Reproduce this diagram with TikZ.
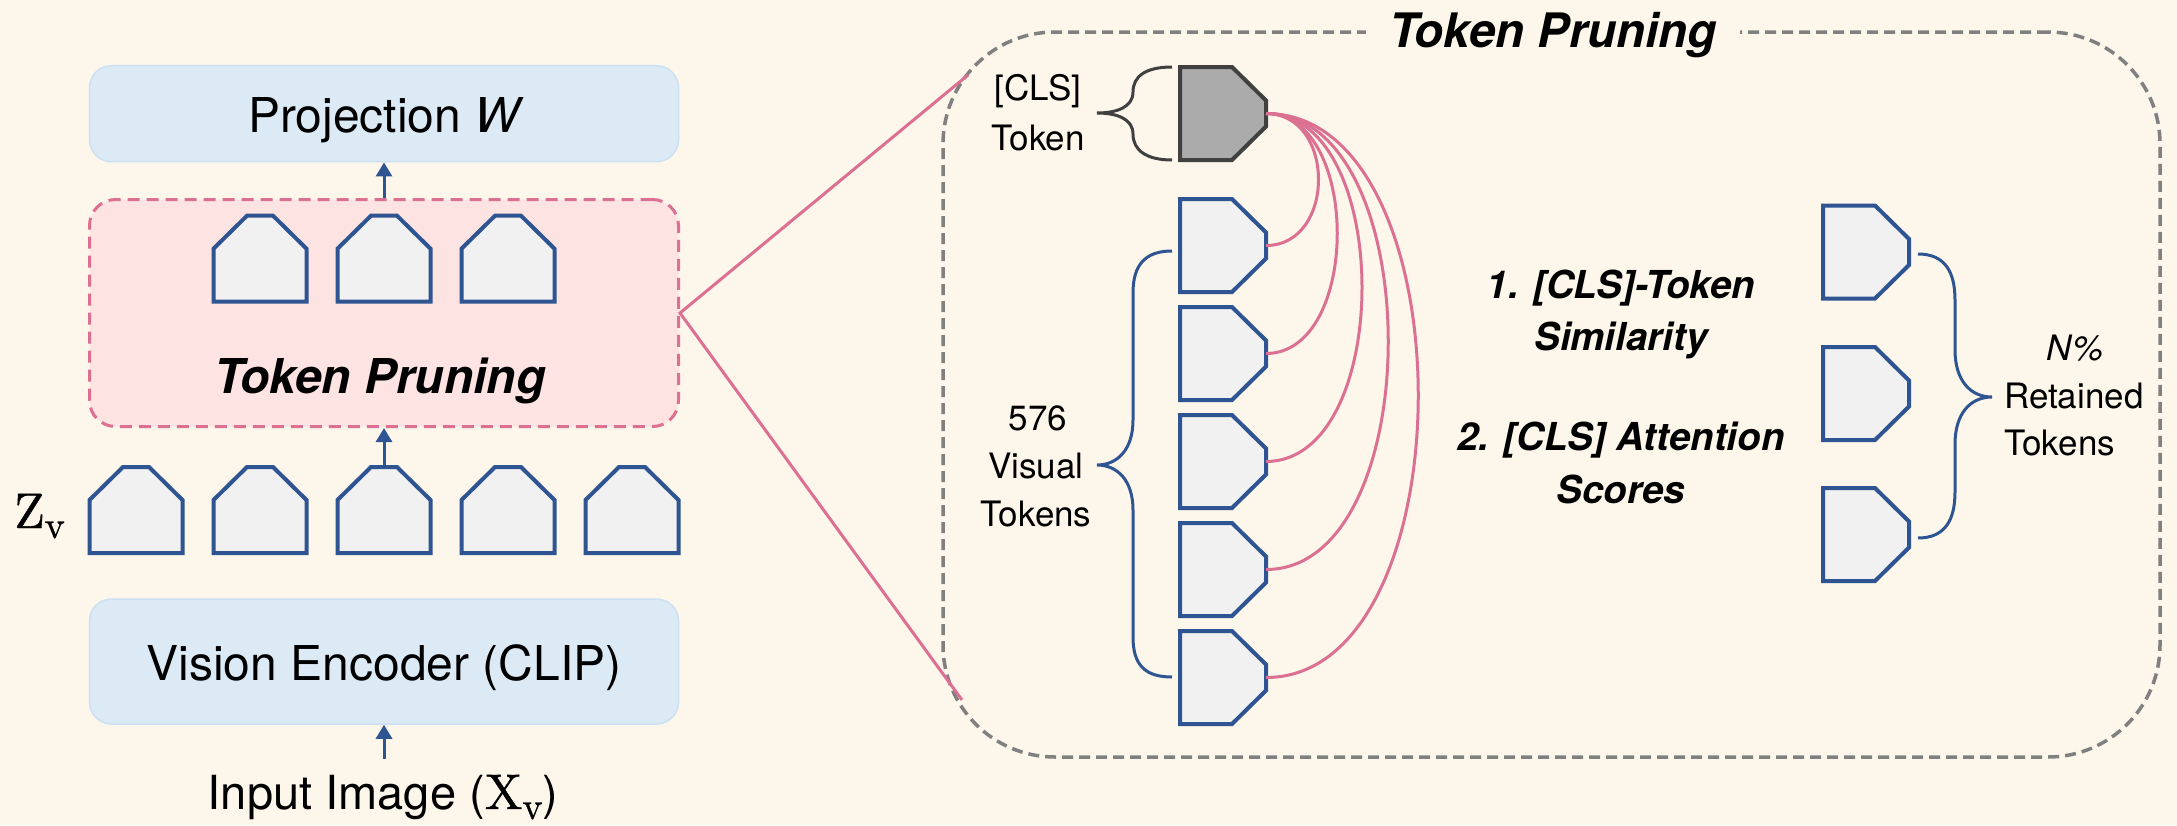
\documentclass[tikz,border=0pt]{standalone}
\usepackage{fontspec}
\newfontfamily\hv{TeX Gyre Heros}
\newfontfamily\symfont{lmroman10-regular.otf}[FakeBold=0.8]
\usetikzlibrary{arrows.meta}

\definecolor{bg}{RGB}{253,246,235}
\definecolor{boxblue}{RGB}{220,234,246}
\definecolor{boxblueline}{RGB}{204,224,243}
\definecolor{boxpink}{RGB}{253,228,226}
\definecolor{rose}{RGB}{219,112,147}
\definecolor{tokblue}{RGB}{46,84,146}
\definecolor{tokgray}{RGB}{241,241,241}
\definecolor{clsgray}{RGB}{171,171,171}
\definecolor{clsdark}{RGB}{64,64,64}
\definecolor{framegray}{RGB}{128,128,128}

\newcommand{\setfs}[1]{\fontsize{#1pt}{#1pt}\selectfont}
% serif symbol with an upright subscript v
\newcommand{\serifvar}[1]{{\symfont\setfs{50}#1\raisebox{-10pt}{\setfs{38}v}}}

\begin{document}
\begin{tikzpicture}[x=1pt,y=-1pt,
  bluebox/.style={draw=boxblueline, line width=1.5pt, fill=boxblue, rounded corners=22pt,
    minimum width=589pt, inner sep=0pt, font=\hv\setfs{48}},
  prunebox/.style={draw=rose, line width=3pt, dash pattern=on 12pt off 7pt, fill=boxpink,
    rounded corners=26pt, minimum width=589pt, minimum height=227pt},
  tokline/.style={draw=tokblue, fill=tokgray, line width=4pt, line join=miter},
  flow/.style={draw=tokblue, line width=3pt, -{Triangle[width=16pt,length=14pt]}},
  zoomline/.style={draw=rose, line width=3pt, line join=miter},
  attn/.style={draw=rose, line width=3pt},
  framebox/.style={draw=framegray, line width=3.5pt, dash pattern=on 11pt off 6pt,
    rounded corners=112pt, minimum width=1217pt, minimum height=725pt},
  brace/.style={line width=3pt, draw=tokblue},
  lbl/.style={font=\hv\setfs{35}, inner sep=0pt, anchor=base},
  method/.style={font=\hv\bfseries\itshape\setfs{38.5}, inner sep=0pt, anchor=base},
  tokU/.pic={\path[tokline] (-46.5,43) -- (46.5,43) -- (46.5,-10) -- (13,-43)
      -- (-13,-43) -- (-46.5,-10) -- cycle;
    \coordinate (-top) at (0,-43);},
  tokR/.pic={\path[tokline] (-43,-46.5) -- (9,-46.5) -- (43,-13) -- (43,13)
      -- (9,46.5) -- (-43,46.5) -- cycle;
    \coordinate (-tip) at (43,0);},
]
\fill[bg] (0,0) rectangle (2177,825);
\useasboundingbox (0,0) rectangle (2177,825);

% ---------- left column: encoder pipeline ----------
\node[bluebox, minimum height=96pt, text height=45pt, text depth=7pt] (proj) at (384,113.7)
  {Projection {\itshape W}};
\node[prunebox] (prune) at (384,313) {};
\node[font=\hv\bfseries\itshape\setfs{48}, inner sep=0pt, anchor=base] (pruneLbl) at (380,393)
  {Token Pruning};
\node[bluebox, minimum height=125pt, text height=44pt, text depth=7pt] (enc) at (384,661.5)
  {Vision Encoder (CLIP)};
\node[font=\hv\setfs{47}, inner sep=0pt, anchor=base] (inp) at (383,809)
  {Input Image (\serifvar{X})};
\node[inner sep=0pt, anchor=base west] (zv) at (14,528) {\serifvar{Z}};

\foreach \x/\n in {260/1,384/2,508/3}
  \pic (p\n) at (\x,258.7) {tokU};
\foreach \x/\n in {136/1,260/2,384/3,508/4,632/5}
  \pic (z\n) at (\x,510) {tokU};

\coordinate (inpTop) at (384,759);
\draw[flow] (prune.north) -- (proj.south);
\draw[flow] (z3-top) -- (prune.south);
\draw[flow] (inpTop) -- (enc.south);

% ---------- right panel: detail of the pruning step ----------
\node[framebox] (detail) at (1551.5,394.5) {};
\coordinate (zt) at (968,75);
\coordinate (zb) at (962,700);
\draw[zoomline] (zt) -- (prune.east) -- (zb);
\node[fill=bg, inner xsep=23pt, inner ysep=4pt, font=\hv\bfseries\itshape\setfs{47.5},
  anchor=base] (title) at (1553,47) {Token Pruning};

\pic[tokline/.append style={draw=clsdark, fill=clsgray}] (cls) at (1223,113.5) {tokR};
\foreach \y/\n in {245.5/1,353.5/2,461.5/3,569.5/4,677.5/5}
  \pic (v\n) at (1223,\y) {tokR};
\foreach \y/\n in {252/1,393.5/2,534.5/3}
  \pic (r\n) at (1866,\y) {tokR};

% attention links from the [CLS] token to each visual token
\draw[attn] (cls-tip) .. controls +(70,0) and +(70,0) .. (v1-tip);
\draw[attn] (cls-tip) .. controls +(95,0) and +(95,0) .. (v2-tip);
\draw[attn] (cls-tip) .. controls +(128,0) and +(128,0) .. (v3-tip);
\draw[attn] (cls-tip) .. controls +(163,0) and +(163,0) .. (v4-tip);
\draw[attn] (cls-tip) .. controls +(203,0) and +(203,0) .. (v5-tip);

% braces
\draw[brace, draw=clsdark] (1172,67) .. controls (1146,67) and (1133,76) .. (1133,92)
  .. controls (1133,107) and (1117,113) .. (1097,113)
  .. controls (1117,113) and (1133,119) .. (1133,134)
  .. controls (1133,150) and (1146,160) .. (1172,160);
\draw[brace] (1172,251) .. controls (1145,251) and (1133,265) .. (1133,293) -- (1133,420)
  .. controls (1133,450) and (1117,465) .. (1097,465)
  .. controls (1117,465) and (1133,480) .. (1133,510) -- (1133,637)
  .. controls (1133,665) and (1145,677) .. (1172,677);
\draw[brace] (1918,254) .. controls (1945,254) and (1955,272) .. (1955,300) -- (1955,350)
  .. controls (1955,380) and (1970,397) .. (1992,397)
  .. controls (1970,397) and (1955,414) .. (1955,444) -- (1955,492)
  .. controls (1955,520) and (1945,538) .. (1918,538);

% labels
\node[lbl] (clsA) at (1038,100) {[CLS]};
\node[lbl] (clsB) at (1038,150) {Token};
\node[lbl] (visA) at (1038,430) {576};
\node[lbl] (visB) at (1036,478) {Visual};
\node[lbl] (visC) at (1036,526) {Tokens};

\node[method] (m1a) at (1621,298) {1. [CLS]-Token};
\node[method] (m1b) at (1621,350) {Similarity};
\node[method] (m2a) at (1621,450) {2. [CLS] Attention};
\node[method] (m2b) at (1621,503) {Scores};

\node[lbl, font=\hv\itshape\setfs{35}] (pct) at (2075,360) {N\%};
\node[lbl, anchor=base west] (retA) at (2004,408) {Retained};
\node[lbl, anchor=base west] (retB) at (2004,455) {Tokens};
\end{tikzpicture}
\end{document}
